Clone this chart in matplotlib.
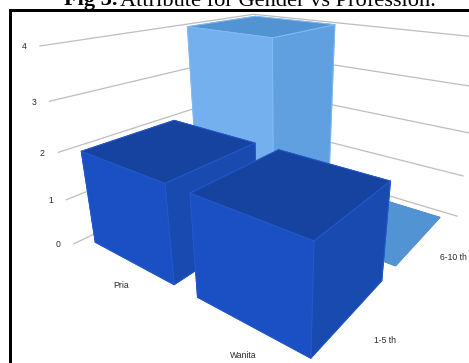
import matplotlib
matplotlib.use("Agg")
import matplotlib.pyplot as plt
from matplotlib.patches import Rectangle
from mpl_toolkits.mplot3d import proj3d

W, H = 469, 363

categories = ["Pria", "Wanita"]
series_names = ["1-5 th", "6-10 th"]
values_1_5 = [2, 2]
values_6_10 = [4, 0]
z_ticks = [0, 1, 2, 3, 4]

# face colours: side towards -y, side towards +x, top
DARK_FACES = ("#1a50c4", "#184ab0", "#15439f")
LIGHT_FACES = ("#74b0ee", "#60a0e0", "#5293d4")
DARK_EDGE = "#2458cc"
LIGHT_EDGE = "#82baf2"

plt.rcParams["font.family"] = ["Liberation Sans", "DejaVu Sans"]

fig = plt.figure(figsize=(W / 100, H / 100), dpi=100)

# camera for the 3D box
ax = fig.add_axes([10.3 / W, -62.9 / H, 546.7 / W, 546.7 / H], projection="3d")
ax.view_init(elev=21.31, azim=-54.26, roll=-0.47)
ax.set_proj_type("persp", focal_length=0.1718)
ax.set_xlim(0.4395, 2.4395)
ax.set_ylim(-0.4378, 1.5622)
ax.set_zlim(0.6324, 4.6324)
ax.set_box_aspect((1, 0.9855, 0.6807))
ax.set_axis_off()
ax.computed_zorder = False


def draw_bar(i, j, value, faces, edge, zorder):
    side_y, side_x, top = faces
    # bar3d face order: -z, +z, -y, +y, -x, +x
    colors = [side_y, top, side_y, side_x, side_y, side_x]
    ax.bar3d(i + 0.1, j + 0.1, 0, 0.8, 0.8, value, color=colors, shade=False,
             edgecolor=edge, linewidth=0.7, zorder=zorder)


def label_at(x, y, z, text, dx, dy, **kw):
    xs, ys, _ = proj3d.proj_transform(x, y, z, ax.get_proj())
    ax.annotate(text, xy=(xs, ys), xycoords="data", xytext=(dx, dy),
                textcoords="offset pixels", ha="center", va="center",
                fontsize=6.2, color="#2a2a2a", annotation_clip=False, **kw)


# back walls: left wall along y, right wall along x
for z in z_ticks:
    ax.plot([0, 0, 2], [0, 2, 2], [z, z, z], color="#bdbdbd", lw=0.9, zorder=1)
    label_at(0, 0, z, str(z), -16, -1)

draw_bar(0, 1, values_6_10[0], LIGHT_FACES, LIGHT_EDGE, 2)
draw_bar(1, 1, values_6_10[1], LIGHT_FACES, LIGHT_FACES[2], 2)
draw_bar(0, 0, values_1_5[0], DARK_FACES, DARK_EDGE, 3)
draw_bar(1, 0, values_1_5[1], DARK_FACES, DARK_EDGE, 4)

label_at(0.5, 0, 0, categories[0], 2, -16)
label_at(1.5, 0, 0, categories[1], 6, -20)
label_at(2, 0.5, 0, series_names[0], 19, -18)
label_at(2, 1.5, 0, series_names[1], 20, -13)

# frame above and to the left of the chart
fig.add_artist(Rectangle((9 / W, 0), 3 / W, (H - 9) / H, transform=fig.transFigure,
                         facecolor="black", edgecolor="none"))
fig.add_artist(Rectangle((9 / W, (H - 12.3) / H), (W - 9) / W, 3.3 / H,
                         transform=fig.transFigure, facecolor="black", edgecolor="none"))

# caption with a bold lead-in
bold = fig.text(64 / W, 1 - 5.5 / H, "Fig 3.", family="Liberation Serif", weight="bold",
                fontsize=16, color="black", va="baseline")
fig.canvas.draw()
bold_end = bold.get_window_extent().x1
fig.text((bold_end + 3) / W, 1 - 5.5 / H, "Attribute for Gender vs Profession.",
         family="Liberation Serif", fontsize=16.1, color="black", va="baseline")

fig.savefig("out.png", dpi=100)
